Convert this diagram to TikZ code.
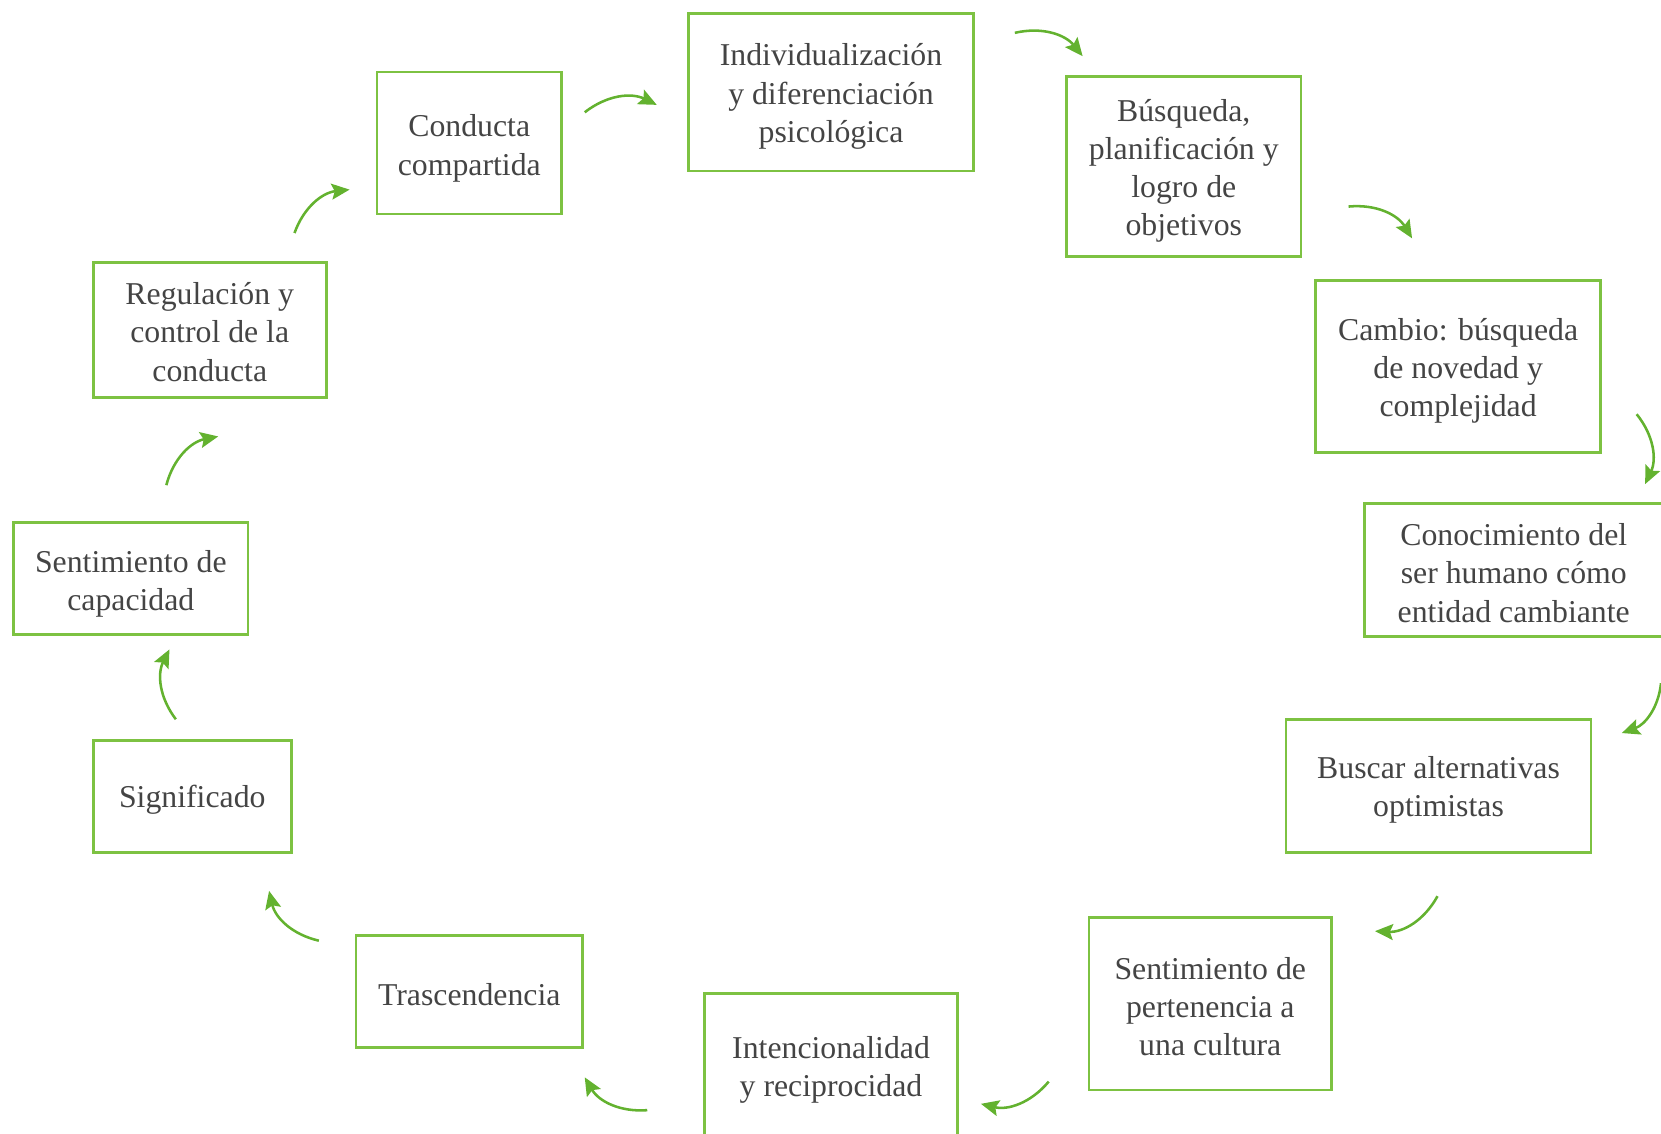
\documentclass[tikz,border=0pt]{standalone}
\usepackage{fontspec}
\setmainfont{Liberation Serif}
\usetikzlibrary{arrows.meta}
\definecolor{boxgreen}{HTML}{7DC242}
\definecolor{arrgreen}{HTML}{63B22F}
\definecolor{txtgray}{HTML}{444444}
\tikzset{
  box/.style={draw=boxgreen, line width=2.5pt, inner sep=0pt},
  lbl/.style={align=center, text=txtgray, font=\fontsize{30}{36}\selectfont,
    inner sep=0pt},
  arr/.style={draw=arrgreen, line width=2.4pt,
    -{Stealth[length=17pt,width=15pt,inset=3pt]}, bend left=32}
}
\begin{document}
\begin{tikzpicture}[x=1pt,y=-1pt]
\useasboundingbox (0,0) rectangle (1568,1070);
\clip (0,0) rectangle (1568,1070);
% boxes
\node[box, minimum width=174pt, minimum height=134pt] (n1) at (443,135) {};
\node[box, minimum width=269pt, minimum height=149pt] (n2) at (784.5,87) {};
\node[box, minimum width=221pt, minimum height=170pt] (n3) at (1117.5,157) {};
\node[box, minimum width=269pt, minimum height=162pt] (n4) at (1376.5,346) {};
\node[box, minimum width=282pt, minimum height=126pt] (n5) at (1429,538) {};
\node[box, minimum width=288pt, minimum height=126pt] (n6) at (1358,742) {};
\node[box, minimum width=229pt, minimum height=163pt] (n7) at (1142.5,947.5) {};
\node[box, minimum width=239pt, minimum height=138pt] (n8) at (784.5,1007) {};
\node[box, minimum width=214pt, minimum height=106pt] (n9) at (443,936) {};
\node[box, minimum width=187pt, minimum height=106pt] (n10) at (181.5,752) {};
\node[box, minimum width=221pt, minimum height=106pt] (n11) at (123.5,546) {};
\node[box, minimum width=220pt, minimum height=127pt] (n12) at (198,311.5) {};
% texts
\node[lbl] (t1) at ([yshift=-5pt]n1.center) {Conducta\\compartida};
\node[lbl] (t2) at ([yshift=-4pt]n2.center) {Individualización\\y diferenciación\\psicológica};
\node[lbl] (t3) at ([yshift=-4pt]n3.center) {Búsqueda,\\planificación y\\logro de\\objetivos};
\node[lbl] (t4) at ([yshift=-4pt]n4.center) {Cambio: búsqueda\\de novedad y\\complejidad};
\node[lbl] (t5) at ([yshift=-3pt]n5.center) {Conocimiento del\\ser humano cómo\\entidad cambiante};
\node[lbl] (t6) at ([yshift=-4pt]n6.center) {Buscar alternativas\\optimistas};
\node[lbl] (t7) at ([yshift=-3pt]n7.center) {Sentimiento de\\pertenencia a\\una cultura};
\node[lbl] (t8) at ([yshift=-3pt]n8.center) {Intencionalidad\\y reciprocidad};
\node[lbl] (t9) at ([yshift=-3pt]n9.center) {Trascendencia};
\node[lbl] (t10) at ([yshift=-3pt]n10.center) {Significado};
\node[lbl] (t11) at ([yshift=-5pt]n11.center) {Sentimiento de\\capacidad};
\node[lbl] (t12) at ([yshift=-2pt]n12.center) {Regulación y\\control de la\\conducta};
% arrow end points
\coordinate (a1) at (552,106);  \coordinate (b1) at (620,99);
\coordinate (a2) at (958,31);   \coordinate (b2) at (1022,53);
\coordinate (a3) at (1273,195); \coordinate (b3) at (1333,225);
\coordinate (a4) at (1545,391); \coordinate (b4) at (1553,457);
\coordinate (a5) at (1568,645); \coordinate (b5) at (1531,692);
\coordinate (a6) at (1357,846); \coordinate (b6) at (1298,879);
\coordinate (a7) at (990,1021); \coordinate (b7) at (926,1042);
\coordinate (a8) at (611,1048); \coordinate (b8) at (552,1017);
\coordinate (a9) at (301,888);  \coordinate (b9) at (254,841);
\coordinate (a10) at (166,679); \coordinate (b10) at (160,613);
\coordinate (a11) at (157,458); \coordinate (b11) at (206,412);
\coordinate (a12) at (278,220); \coordinate (b12) at (330,179);
\foreach \i in {1,...,12} { \draw[arr] (a\i) to (b\i); }
\end{tikzpicture}
\end{document}
